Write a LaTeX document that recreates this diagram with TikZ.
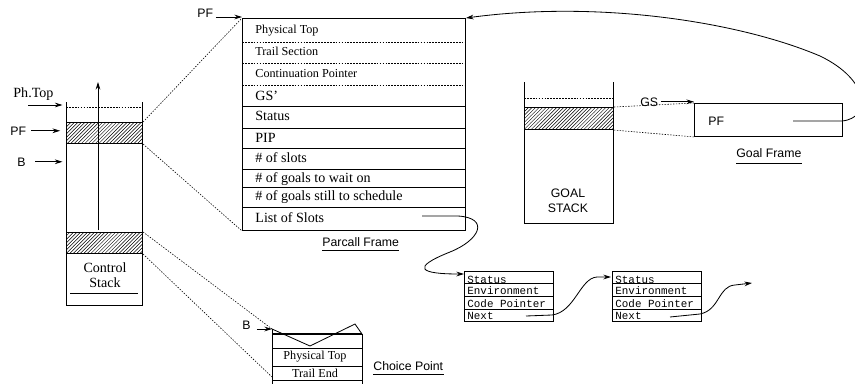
\documentclass[tikz,border=0pt]{standalone}
\usepackage{fontspec}
\setmainfont{Liberation Serif}
\setsansfont{Liberation Sans}
\setmonofont{Liberation Mono}
\usetikzlibrary{arrows.meta,patterns}

\tikzset{
  ptr/.style={-{Stealth[length=6.5pt,width=4pt]}},
  link/.style={line width=.5pt,dash pattern=on 1.2pt off 1.2pt},
  sep/.style={line width=.5pt,dash pattern=on 1.5pt off 1pt},
  hatched/.style={draw,line width=.9pt,pattern=north east lines,anchor=north west,inner sep=0pt},
  frame/.style={draw,line width=.8pt,anchor=north west,inner sep=0pt},
  lab/.style={font=\sffamily\fontsize{10.5}{12}\selectfont,inner sep=0pt,anchor=base west},
  big/.style={font=\fontsize{12}{14}\selectfont,inner sep=0pt,anchor=base west},
  little/.style={font=\fontsize{10.4}{12}\selectfont,inner sep=0pt,anchor=base west},
  tt/.style={font=\ttfamily\fontsize{9.3}{11}\selectfont,inner sep=0pt,anchor=base west},
}

\begin{document}
\begin{tikzpicture}[x=0.03cm,y=-0.03cm,line width=.7pt]
\useasboundingbox (0,0) rectangle (855,383);

% control stack
\draw (66,102) |- (142,305) -- (142,102);
\draw[sep] (66,107) -- (142,107);
\node[hatched,minimum width=2.28cm,minimum height=.63cm] (pfslot) at (66,122) {};
\node[hatched,minimum width=2.28cm,minimum height=.63cm] (cpslot) at (66,232) {};
\draw[ptr] (98,230) -- (98,82);
\node[big,anchor=base] (cslab1) at (105,272) {Control};
\node[big,anchor=base] (cslab2) at (105,287) {Stack};
\draw[line width=.5pt] (70,293) -- (138,293);

\node[big] (phtop) at (13,97) {Ph.Top};
\coordinate (phtail) at (28,105);
\draw[ptr,shorten >=3pt] (phtail) -- (phtail -| pfslot.west);
\node[lab] (pfA) at (10,135) {PF};
\draw[ptr,shorten <=4pt,shorten >=5pt] (pfA.east) -- (pfA.east -| pfslot.west);
\node[lab] (bA) at (17,166) {B};
\draw[ptr,shorten <=8pt,shorten >=3pt] (bA.east) -- (bA.east -| pfslot.west);

% parcall frame
\node[frame,minimum width=6.69cm,minimum height=6.36cm] (pcf) at (242,18) {};
\foreach \y in {42,63,85} \draw[sep] (242,\y) -- (465,\y);
\foreach \y in {106,128,148,169,187,207} \draw (242,\y) -- (465,\y);
\foreach \txt/\y [count=\i] in {Physical Top/33,Trail Section/55,Continuation Pointer/77}
  \node[little] (row\i) at (255,\y) {\txt};
\foreach \txt/\y [count=\i from 4] in {GS'/100,Status/120,PIP/142,\# of slots/162,\# of goals to wait on/182,\# of goals still to schedule/200,List of Slots/222}
  \node[big] (row\i) at (255,\y) {\txt};
\node[lab] (pfB) at (197,17) {PF};
\draw[ptr,shorten <=2pt] (pfB.base east) -- (pfB.base east -| pcf.west);
\draw[link] (pfslot.north east) -- (pcf.north west);
\draw[link] (pfslot.south east) -- (pcf.south west);
\node[lab] (pccap) at (322,246) {Parcall Frame};
\draw[line width=.6pt] ([yshift=-4pt]pccap.base west) -- ([yshift=-4pt]pccap.base east);

% choice point
\coordinate (cpnw) at (272,329);
\coordinate (cpdip) at (310,346);
\coordinate (cppeak) at (355,324);
\coordinate (cpne) at (362,334);
\coordinate (cplow) at (272,377);
\draw (cpnw) -- (cpdip) -- (cppeak) -- (cpne);
\draw (cpnw) -- (272,390);
\draw (cpne) -- (362,390);
\draw[line width=1pt] (272,334) -- (362,334);
\foreach \y in {348,366,380} \draw (272,\y) -- (362,\y);
\node[little,anchor=base] (cprow1) at (315,359) {Physical Top};
\node[little,anchor=base] (cprow2) at (315,377) {Trail End};
\node[lab] (bB) at (242,329) {B};
\draw[ptr,shorten <=5pt] (bB.base east) -- (bB.base east -| cpnw);
\draw[link] (cpslot.north east) -- (cpnw);
\draw[link] (cpslot.south east) -- (cplow);
\node[lab] (cpcap) at (373,370) {Choice Point};
\draw[line width=.6pt] ([yshift=-4pt]cpcap.base west) -- ([yshift=-4pt]cpcap.base east);

% goal stack and goal frame
\draw (524,82) |- (613,223) -- (613,82);
\draw[sep] (524,98) -- (613,98);
\node[hatched,minimum width=2.67cm,minimum height=.66cm] (gsslot) at (524,107) {};
\node[lab,anchor=base] (gslab1) at (568,197) {GOAL};
\node[lab,anchor=base] (gslab2) at (568,212) {STACK};
\node[frame,minimum width=4.44cm,minimum height=.99cm] (gf) at (694,103) {};
\node[lab] (gfpf) at (708,125) {PF};
\draw[link] (gsslot.north east) -- (gf.north west);
\draw[link] (gsslot.south east) -- (gf.south west);
\node[lab] (gs) at (640,106) {GS};
\draw[ptr,shorten <=2pt] (gs.east) -- (gs.east -| gf.west);
\node[lab] (gfcap) at (736,157) {Goal Frame};
\draw[line width=.6pt] ([yshift=-5pt]gfcap.base west) -- ([yshift=-5pt]gfcap.base east);
\coordinate (gfptr) at (793,121);
\draw[ptr] (gfptr) -- (842,121) .. controls (872,118) and (870,80) .. (820,56)
  .. controls (740,22) and (600,0) .. (pcf.north east);

% slot list
\foreach \b/\x in {slotA/464,slotB/612} {
  \node[frame,minimum width=2.67cm,minimum height=1.5cm] (\b) at (\x,271) {};
  \foreach \y in {283,296,309} \draw[line width=.5pt] (\x,\y) -- ++(89,0);
  \foreach \txt/\y [count=\i] in {Status/283,Environment/294,Code Pointer/307,Next/319}
    \node[tt] (\b-\i) at (\x+3,\y) {\txt};
}
\coordinate (lsA) at (422,216);
\coordinate (slotAin) at (464,274);
\coordinate (nextA) at (526,316);
\coordinate (slotBin) at (611,277);
\coordinate (nextB) at (670,317);
\coordinate (nextend) at (752,283);
\draw[ptr] (lsA) -- (458,216) .. controls (490,218) and (480,240) .. (450,252)
  .. controls (410,268) and (420,274) .. (slotAin);
\draw[ptr] (nextA) -- (552,315) .. controls (575,312) and (580,278) .. (597,277) -- (slotBin);
\draw[ptr] (nextB) -- (700,314) .. controls (720,310) and (718,286) .. (735,285) -- (nextend);
\end{tikzpicture}
\end{document}
